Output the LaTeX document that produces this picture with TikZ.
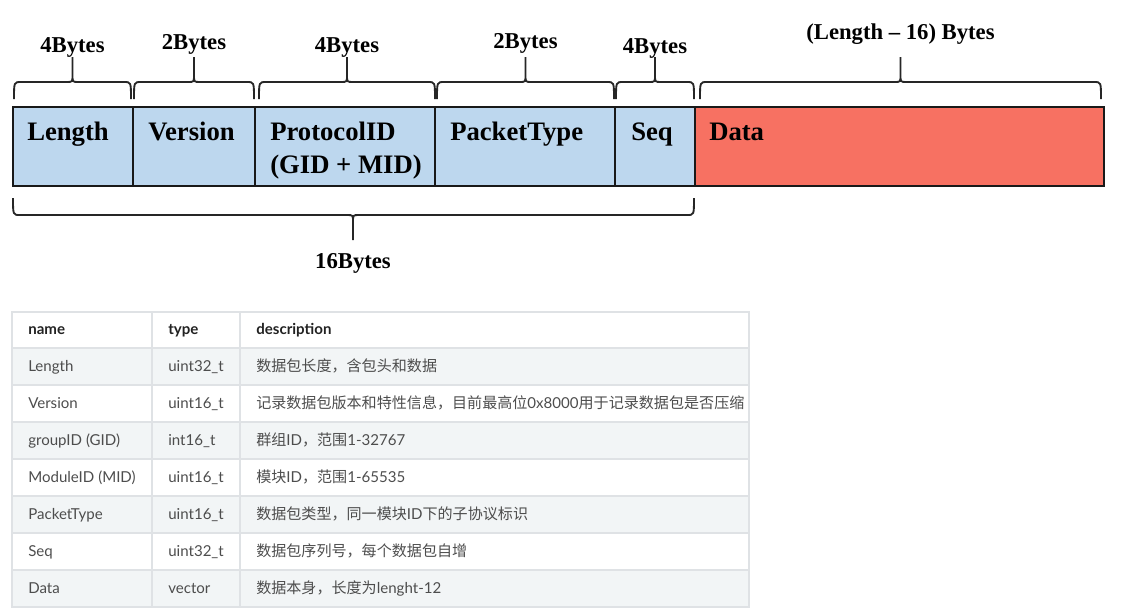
\documentclass[tikz,border=0pt]{standalone}
\usepackage{fontspec}
\setmainfont{Liberation Serif}
\newfontfamily\tablefont{Lato}
\newfontfamily\cjk{Noto Sans CJK SC}
\usetikzlibrary{positioning}

\definecolor{fieldblue}{RGB}{189,215,238}
\definecolor{datared}{RGB}{247,113,98}
\definecolor{gridgray}{RGB}{223,226,229}
\definecolor{rowgray}{RGB}{242,245,246}
\definecolor{bodytext}{RGB}{77,77,77}
\definecolor{headtext}{RGB}{34,34,34}

\tikzset{
  field/.style={draw=black!90,line width=1.5pt},
  fieldlabel/.style={anchor=base west,inner sep=0pt,font=\fontsize{20pt}{24pt}\selectfont\bfseries},
  bytelabel/.style={anchor=base,inner sep=0pt,font=\fontsize{17pt}{20pt}\selectfont\bfseries},
  bracket/.style={draw=black!85,line width=1.4pt},
  cell/.style={anchor=base west,inner sep=0pt,text=bodytext,font=\tablefont\fontsize{11.3pt}{13pt}\selectfont},
  headcell/.style={cell,text=headtext,font=\tablefont\fontsize{11.3pt}{13pt}\selectfont\bfseries}
}

\begin{document}
\begin{tikzpicture}[x=0.75pt,y=-0.75pt]
  \useasboundingbox (0,0) rectangle (1122,615);

  % Packet fields
  \filldraw[field,fill=fieldblue] (13,107) rectangle (695,186);
  \filldraw[field,fill=datared] (695,107) rectangle (1104,186);
  \foreach \x in {133,255,435,615}
    \draw[field] (\x,107) -- (\x,186);

  \node[fieldlabel] (lbllength) at (27,140) {Length};
  \node[fieldlabel] (lblversion) at (148,140) {Version};
  \node[fieldlabel] (lblproto) at (270,140) {ProtocolID};
  \node[fieldlabel] (lblgidmid) at (270,173) {(GID + MID)};
  \node[fieldlabel] (lbltype) at (450,140) {PacketType};
  \node[fieldlabel] (lblseq) at (631,140) {Seq};
  \node[fieldlabel] (lbldata) at (709,140) {Data};

  % Byte counts above the fields
  \foreach \a/\b/\ty/\txt [evaluate=\a as \m using (\a+\b)/2] in
      {14/131/52/{4Bytes}, 134/254/49/{2Bytes}, 259/435/52/{4Bytes},
       437/614/48/{2Bytes}, 616/694/53/{4Bytes}, 700/1101/39/{(Length – 16) Bytes}}
  {
    \draw[bracket] (\a,99) .. controls (\a,82) .. (\a+7,82) -- (\m-6,82)
      .. controls (\m,82) .. (\m,75) -- (\m,57) -- (\m,75)
      .. controls (\m,82) .. (\m+6,82) -- (\b-7,82) .. controls (\b,82) .. (\b,99);
    \node[bytelabel] (bytes\a) at (\m,\ty) {\txt};
  }

  % Header size
  \draw[bracket] (13,198) .. controls (13,215) .. (20,215) -- (347,215)
    .. controls (353,215) .. (353,222) -- (353,240) -- (353,222)
    .. controls (353,215) .. (359,215) -- (687,215) .. controls (694,215) .. (694,198);
  \node[bytelabel] (bytestotal) at (353,268) {16Bytes};

  % Table
  \foreach \r in {0,2,4,6}
    \fill[rowgray] (12,{348+37*\r}) rectangle (749,{385+37*\r});
  \foreach \r in {1,...,6}
    \draw[gridgray,line width=0.8pt] (12,{348+37*\r}) -- (749,{348+37*\r});
  \draw[gridgray,line width=0.8pt] (12,312) rectangle (749,607);
  \draw[gridgray,line width=0.8pt] (152,312) -- (152,607) (240,312) -- (240,607);
  \draw[gridgray,line width=1.6pt] (12,348) -- (749,348);

  \node[headcell] (hdname) at (28,334) {name};
  \node[headcell] (hdtype) at (168,334) {type};
  \node[headcell] (hddesc) at (256,334) {description};

  \foreach \n/\t/\d [count=\i from 0] in
      {Length/uint32\_t/{{\cjk 数据包长度，含包头和数据}},
       Version/uint16\_t/{{\cjk 记录数据包版本和特性信息，目前最高位}0x8000{\cjk 用于记录数据包是否压缩}},
       {groupID (GID)}/int16\_t/{{\cjk 群组}ID{\cjk ，范围}1-32767},
       {ModuleID (MID)}/uint16\_t/{{\cjk 模块}ID{\cjk ，范围}1-65535},
       PacketType/uint16\_t/{{\cjk 数据包类型，同一模块}ID{\cjk 下的子协议标识}},
       Seq/uint32\_t/{{\cjk 数据包序列号，每个数据包自增}},
       Data/vector/{{\cjk 数据本身，长度为}lenght-12}}
  {
    \node[cell] (name\i) at (28,{371+37*\i}) {\n};
    \node[cell] (type\i) at (168,{371+37*\i}) {\t};
    \node[cell] (desc\i) at (256,{371+37*\i}) {\d};
  }
\end{tikzpicture}
\end{document}
